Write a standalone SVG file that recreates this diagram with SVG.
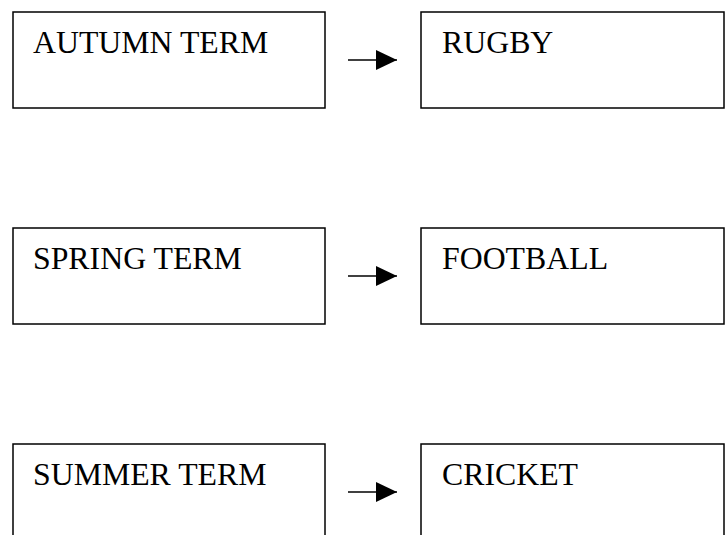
<svg xmlns="http://www.w3.org/2000/svg" width="725" height="535" viewBox="0 0 725 535">
<style>
.box{fill:#fff;stroke:#000;stroke-width:1.5}
.lbl{font-family:"Liberation Serif","Times New Roman",serif;font-size:31.8px;fill:#000}
.conn{stroke:#000;stroke-width:1.5;fill:none}
</style>
<defs>
<marker id="ah" markerUnits="userSpaceOnUse" markerWidth="22" markerHeight="20" refX="21" refY="10" orient="auto">
<path d="M0,0 L21,10 L0,20 Z" fill="#000"/>
</marker>
</defs>
<rect width="725" height="535" fill="#fff"/>
<g id="autumn"><rect class="box" x="13" y="12" width="312" height="96"/><text class="lbl" x="33" y="53">AUTUMN TERM</text></g>
<g id="rugby"><rect class="box" x="421" y="12" width="303" height="96"/><text class="lbl" x="442" y="53">RUGBY</text></g>
<g id="spring"><rect class="box" x="13" y="228" width="312" height="96"/><text class="lbl" x="33" y="269">SPRING TERM</text></g>
<g id="football"><rect class="box" x="421" y="228" width="303" height="96"/><text class="lbl" x="442" y="269">FOOTBALL</text></g>
<g id="summer"><rect class="box" x="13" y="444" width="312" height="96"/><text class="lbl" x="33" y="485">SUMMER TERM</text></g>
<g id="cricket"><rect class="box" x="421" y="444" width="303" height="96"/><text class="lbl" x="442" y="485">CRICKET</text></g>
<g id="connectors">
<line class="conn" x1="348" y1="60" x2="397" y2="60" marker-end="url(#ah)"/>
<line class="conn" x1="348" y1="276" x2="397" y2="276" marker-end="url(#ah)"/>
<line class="conn" x1="348" y1="492" x2="397" y2="492" marker-end="url(#ah)"/>
</g>
</svg>
